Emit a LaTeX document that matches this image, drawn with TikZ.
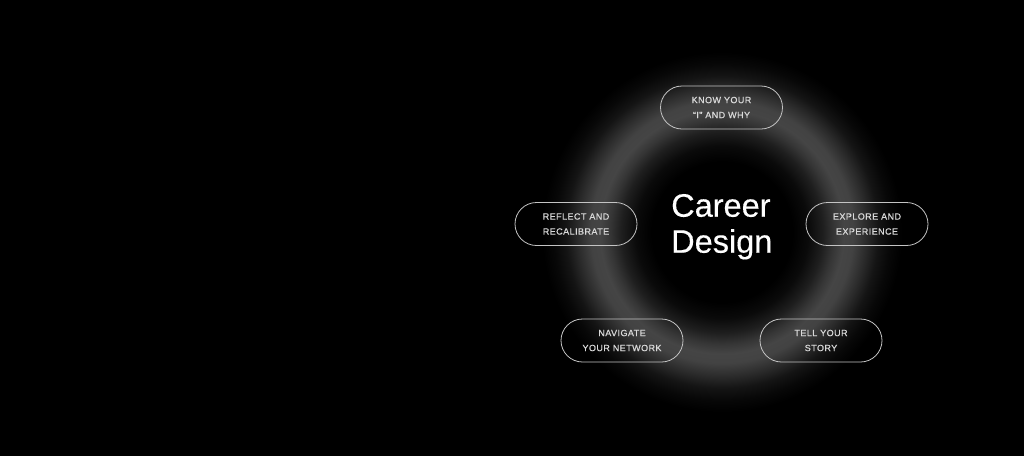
\documentclass[tikz,border=0pt]{standalone}
\usepackage{fontspec}
\setmainfont{Liberation Sans}
\newfontfamily\pillfont[LetterSpace=5,FakeBold=0.6]{Liberation Sans}
\newfontfamily\titlefont[FakeBold=0.3]{Liberation Sans}
\usetikzlibrary{shapes.misc}
\definecolor{pillline}{HTML}{C4C4C4}
\definecolor{pilltext}{HTML}{DADADA}
% ring glow: path radius 200pt maps to 25bp, so 1bp = 8pt
\pgfdeclareradialshading{ringglow}{\pgfpoint{0bp}{0bp}}{%
  color(0bp)=(black);
  color(8.8bp)=(black);
  color(10.8bp)=(white!4!black);
  color(12.6bp)=(white!12!black);
  color(14bp)=(white!21!black);
  color(15.2bp)=(white!27!black);
  color(16.4bp)=(white!26!black);
  color(18bp)=(white!17!black);
  color(19.5bp)=(white!8!black);
  color(21bp)=(white!3!black);
  color(22.5bp)=(black);
  color(50bp)=(black)}
\tikzset{
  pill/.style={rounded rectangle, draw=pillline, line width=0.8pt,
    minimum width=122pt, minimum height=43pt, inner sep=0pt,
    align=center, text=pilltext, font=\pillfont\fontsize{9}{15}\selectfont},
  title/.style={anchor=base west, text=white, inner sep=0pt,
    font=\titlefont\fontsize{32.5}{36}\selectfont}
}
\begin{document}
\begin{tikzpicture}[x=1pt,y=-1pt]
\fill[black] (0,0) rectangle (1024,456);
\useasboundingbox (0,0) rectangle (1024,456);
% glowing ring
\shade[shading=ringglow] (722,232) circle [radius=200];
\node[title] (career) at (671,216.7) {Career};
\node[title] (design) at (671,252.7) {Design};
\node[pill] (know) at (721.5,107.5) {KNOW YOUR\\\char"201C I\char"201D\ AND WHY};
\node[pill] (explore) at (867,224) {EXPLORE AND\\EXPERIENCE};
\node[pill] (tell) at (821,340.5) {TELL YOUR\\STORY};
\node[pill] (navigate) at (622,340.5) {NAVIGATE\\YOUR NETWORK};
\node[pill] (reflect) at (576,224) {REFLECT AND\\RECALIBRATE};
\end{tikzpicture}
\end{document}
